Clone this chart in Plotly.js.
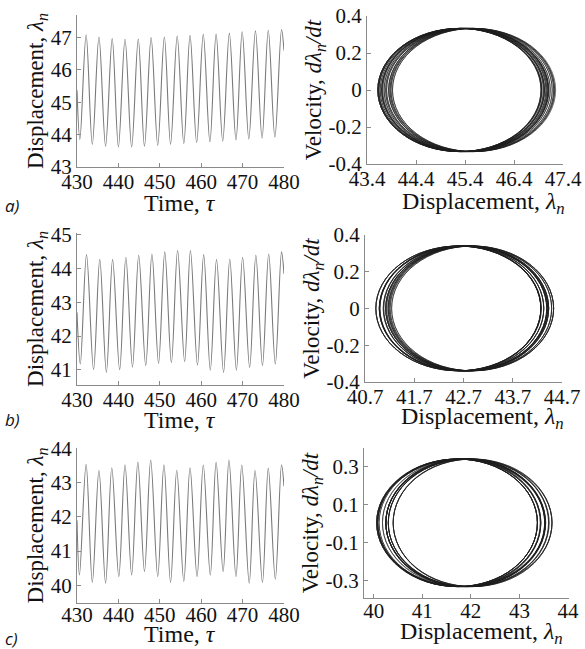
<!DOCTYPE html>
<html><head><meta charset="utf-8">
<script src="https://cdn.plot.ly/plotly-3.0.1.min.js"></script>
<style>html,body{margin:0;padding:0;background:#fff}#chart{width:585px;height:649px}</style>
</head><body><div id="chart"></div>
<script>
// ---- Panel a: time series (start, alternating trough/peak extremes, end) ----
const tauA = [430.0, 430.7, 432.2, 433.7, 435.3, 436.9, 438.5, 440.0, 441.6, 443.2, 444.8, 446.3, 447.9, 449.5, 451.1, 452.6, 454.2, 455.8, 457.3, 458.9, 460.5, 462.1, 463.6, 465.2, 466.8, 468.4, 469.9, 471.5, 473.1, 474.7, 476.2, 477.8, 479.4, 480.0];
const lamA = [45.37, 43.85, 47.09, 43.70, 47.02, 43.64, 46.97, 43.62, 46.95, 43.62, 46.96, 43.64, 47.00, 43.67, 47.02, 43.70, 47.05, 43.72, 47.07, 43.75, 47.10, 43.78, 47.11, 43.80, 47.14, 43.84, 47.18, 43.87, 47.21, 43.89, 47.23, 43.92, 47.25, 46.60];
// ---- Panel b ----
const tauB = [430.0, 430.8, 432.3, 434.0, 435.5, 437.1, 438.6, 440.3, 441.8, 443.4, 444.9, 446.6, 448.1, 449.7, 451.2, 452.8, 454.3, 456.0, 457.4, 459.1, 460.6, 462.2, 463.7, 465.4, 466.9, 468.5, 470.0, 471.7, 473.2, 474.8, 476.3, 477.9, 479.4, 480.0];
const lamB = [42.70, 41.17, 44.41, 41.00, 44.27, 40.92, 44.27, 41.00, 44.33, 41.08, 44.39, 41.12, 44.43, 41.19, 44.49, 41.21, 44.53, 41.24, 44.53, 41.14, 44.41, 40.99, 44.27, 40.92, 44.28, 40.99, 44.33, 41.07, 44.39, 41.12, 44.43, 41.17, 44.49, 43.84];
// ---- Panel c ----
const tauC = [430.0, 430.6, 432.2, 433.7, 435.3, 436.9, 438.4, 440.1, 441.6, 443.2, 444.7, 446.3, 447.8, 449.5, 451.0, 452.6, 454.1, 455.8, 457.3, 459.0, 460.5, 462.2, 463.6, 465.3, 466.7, 468.4, 469.8, 471.6, 473.0, 474.8, 476.2, 477.9, 479.4, 480.0];
const lamC = [41.90, 40.30, 43.54, 40.08, 43.37, 40.06, 43.44, 40.25, 43.53, 40.30, 43.61, 40.40, 43.67, 40.25, 43.53, 40.08, 43.37, 40.11, 43.44, 40.25, 43.52, 40.30, 43.60, 40.40, 43.67, 40.25, 43.52, 40.06, 43.37, 40.08, 43.43, 40.18, 43.53, 42.90];

// Phase portraits: velocity extremes [v top, v bottom]
const velPeakA = [0.333, -0.333];
const velPeakB = [0.340, -0.339];
const velPeakC = [0.342, -0.330];

// Tick labels
const tsTicksA = [43, 44, 45, 46, 47];
const tsTicksB = [41, 42, 43, 44, 45];
const tsTicksC = [40, 41, 42, 43, 44];
const timeTicks = [430, 440, 450, 460, 470, 480];
const phXTicksA = [43.4, 44.4, 45.4, 46.4, 47.4];
const phXTicksB = [40.7, 41.7, 42.7, 43.7, 44.7];
const phXTicksC = [40, 41, 42, 43, 44];
const phVTicksAB = [-0.4, -0.2, 0, 0.2, 0.4];
const phVTextAB = ["-0.4", "-0.2", "0", "0.2", "0.4"];
const phVTicksC = [-0.3, -0.1, 0.1, 0.3];
const phVTextC = ["-0.3", "-0.1", "0.1", "0.3"];

// Each half-oscillation between consecutive displacement extremes traces one loop of the
// phase portrait, bounded by those extremes (v = 0) and the velocity extremes.
function loops(lam, vp, xr, yr) {
  const ext = lam.slice(1, -1);
  const out = [];
  for (let i = 0; i + 1 < ext.length; i++) {
    out.push({type: 'circle', xref: xr, yref: yr,
      x0: Math.min(ext[i], ext[i + 1]), x1: Math.max(ext[i], ext[i + 1]),
      y0: vp[1], y1: vp[0],
      line: {color: '#1c1c1c', width: 0.6}, layer: 'above'});
  }
  return out;
}

const tsLine = {color: '#7a7a7a', width: 1.1, shape: 'spline', smoothing: 1};

const data = [
  {x: tauA, y: lamA, xaxis: 'x', yaxis: 'y', mode: 'lines', line: tsLine},
  {x: lamA.slice(1, -1), y: lamA.slice(1, -1).map(() => 0), xaxis: 'x2', yaxis: 'y2', mode: 'markers', marker: {size: 1, opacity: 0}},
  {x: tauB, y: lamB, xaxis: 'x3', yaxis: 'y3', mode: 'lines', line: tsLine},
  {x: lamB.slice(1, -1), y: lamB.slice(1, -1).map(() => 0), xaxis: 'x4', yaxis: 'y4', mode: 'markers', marker: {size: 1, opacity: 0}},
  {x: tauC, y: lamC, xaxis: 'x5', yaxis: 'y5', mode: 'lines', line: tsLine},
  {x: lamC.slice(1, -1), y: lamC.slice(1, -1).map(() => 0), xaxis: 'x6', yaxis: 'y6', mode: 'markers', marker: {size: 1, opacity: 0}}
];

const W = 585, H = 649;
const serif = 'Liberation Serif, Times New Roman, serif';
const tickFont = {family: serif, size: 21, color: '#111'};
const yTitleFont = {family: serif, size: 23, color: '#111'};
const xTitleFont = {family: serif, size: 24, color: '#111'};
const px = (a, b) => [a / W, b / W];
const py = (top, bot) => [1 - bot / H, 1 - top / H];

function ax(domain, range, tickvals, ticktext, title, extra) {
  const o = {
    domain: domain, range: range, tickmode: 'array', tickvals: tickvals,
    showline: true, linecolor: '#8a8a8a', linewidth: 1, mirror: false,
    ticks: 'inside', ticklen: 4, tickcolor: '#8a8a8a', tickwidth: 1,
    showgrid: false, zeroline: false, tickfont: tickFont, fixedrange: true
  };
  if (title) o.title = {text: title, font: yTitleFont, standoff: 0};
  if (ticktext) o.ticktext = ticktext;
  return Object.assign(o, extra || {});
}

const dispTitle = 'Displacement, <i>λ<sub>n</sub></i>';
const timeTitle = 'Time, <i>τ</i>';
const velTitle = 'Velocity, <i>dλ<sub>n</sub>/dt</i>';

const xTitles = [
  {text: timeTitle, x: 180, y: 203}, {text: dispTitle, x: 484, y: 203},
  {text: timeTitle, x: 180, y: 420}, {text: dispTitle, x: 482, y: 418},
  {text: timeTitle, x: 180, y: 634}, {text: dispTitle, x: 481, y: 633}
].map(a => ({text: a.text, x: a.x / W, y: 1 - a.y / H, xref: 'paper', yref: 'paper',
  xanchor: 'center', yanchor: 'middle', showarrow: false, font: xTitleFont}));

const panelLabels = [
  {text: 'a)', y: 206}, {text: 'b)', y: 419}, {text: 'c)', y: 638}
].map(a => ({text: a.text, x: 3 / W, y: 1 - a.y / H, xref: 'paper', yref: 'paper',
  xanchor: 'left', yanchor: 'middle', showarrow: false,
  font: {family: 'Open Sans, DejaVu Sans, sans-serif', size: 17, color: '#111', style: 'italic'}}));

const layout = {
  width: W, height: H, margin: {l: 0, r: 0, t: 0, b: 0},
  paper_bgcolor: '#fff', plot_bgcolor: '#fff', showlegend: false,
  xaxis:  ax(px(77, 284), [430, 480], timeTicks, null, null, {anchor: 'y', ticklabelstandoff: -4}),
  yaxis:  ax(py(15, 167), [43, 47.7], tsTicksA, null, dispTitle, {anchor: 'x'}),
  xaxis2: ax(px(367, 563), [43.4, 47.4], phXTicksA, null, null, {anchor: 'y2', ticklabelstandoff: -4}),
  yaxis2: ax(py(16, 164), [-0.4, 0.4], phVTicksAB, phVTextAB, velTitle, {anchor: 'x2'}),
  xaxis3: ax(px(77, 284), [430, 480], timeTicks, null, null, {anchor: 'y3', ticklabelstandoff: -4}),
  yaxis3: ax(py(233, 385), [40.55, 45.05], tsTicksB, null, dispTitle, {anchor: 'x3'}),
  xaxis4: ax(px(365, 562), [40.7, 44.7], phXTicksB, null, null, {anchor: 'y4', ticklabelstandoff: -4}),
  yaxis4: ax(py(235, 382), [-0.4, 0.4], phVTicksAB, phVTextAB, velTitle, {anchor: 'x4'}),
  xaxis5: ax(px(77, 284), [430, 480], timeTicks, null, null, {anchor: 'y5', ticklabelstandoff: -7}),
  yaxis5: ax(py(448, 603), [39.48, 44.02], tsTicksC, null, dispTitle, {anchor: 'x5'}),
  xaxis6: ax(px(364, 569), [39.8, 44.02], phXTicksC, null, null, {anchor: 'y6', ticklabelstandoff: -6}),
  yaxis6: ax(py(448, 598), [-0.39, 0.4], phVTicksC, phVTextC, velTitle, {anchor: 'x6'}),
  shapes: [].concat(loops(lamA, velPeakA, 'x2', 'y2'), loops(lamB, velPeakB, 'x4', 'y4'), loops(lamC, velPeakC, 'x6', 'y6')),
  annotations: xTitles.concat(panelLabels)
};

Plotly.newPlot('chart', data, layout, {staticPlot: true, displayModeBar: false});
</script>
</body></html>
